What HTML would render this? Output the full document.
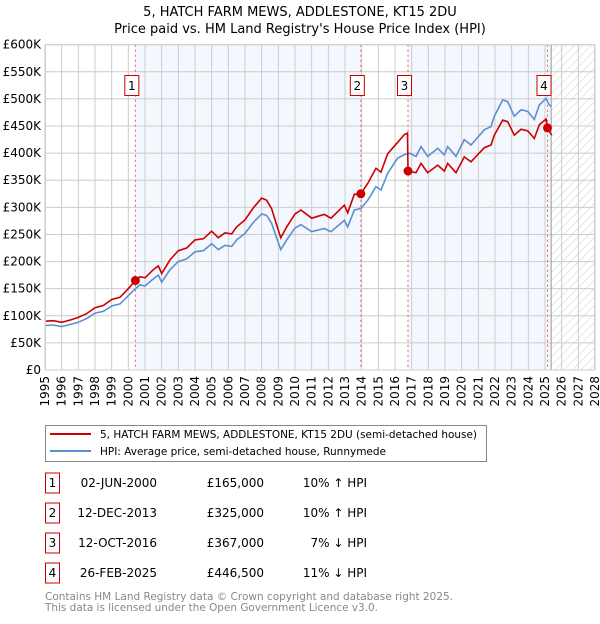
<!DOCTYPE html>
<html><head><meta charset="utf-8"><style>
body{margin:0;background:#fff;font-family:"DejaVu Sans","Liberation Sans",sans-serif;}
svg text{font-family:"DejaVu Sans","Liberation Sans",sans-serif;}
</style></head><body>
<svg id="c" width="600" height="620" viewBox="0 0 600 620" xmlns="http://www.w3.org/2000/svg">
<defs><pattern id="hatch" width="6" height="6" patternUnits="userSpaceOnUse" patternTransform="rotate(45)"><line x1="0" y1="0" x2="0" y2="6" stroke="#ccc" stroke-width="1"/></pattern></defs>
<text x="300" y="16" text-anchor="middle" font-size="13" fill="#000">5, HATCH FARM MEWS, ADDLESTONE, KT15 2DU</text>
<text x="300" y="33" text-anchor="middle" font-size="13" fill="#000">Price paid vs. HM Land Registry's House Price Index (HPI)</text>
<g id="plot"></g>
<g>
<rect x="45.5" y="425.5" width="441" height="36" fill="#fff" stroke="#888"/>
<line x1="50" y1="434" x2="91" y2="434" stroke="#cc0000" stroke-width="2"/>
<text x="100" y="438" font-size="11" textLength="377" lengthAdjust="spacingAndGlyphs">5, HATCH FARM MEWS, ADDLESTONE, KT15 2DU (semi-detached house)</text>
<line x1="50" y1="451" x2="91" y2="451" stroke="#5b8fd0" stroke-width="2"/>
<text x="100" y="455" font-size="11" textLength="286" lengthAdjust="spacingAndGlyphs">HPI: Average price, semi-detached house, Runnymede</text>
</g>
<g id="table"></g>
<text x="45" y="600" font-size="11" fill="#888" textLength="408" lengthAdjust="spacingAndGlyphs">Contains HM Land Registry data © Crown copyright and database right 2025.</text>
<text x="45" y="611" font-size="11" fill="#888" textLength="333" lengthAdjust="spacingAndGlyphs">This data is licensed under the Open Government Licence v3.0.</text>
</svg>
<script>
const yTicks=[0,50000,100000,150000,200000,250000,300000,350000,400000,450000,500000,550000,600000];
const yTickLabels=["£0","£50K","£100K","£150K","£200K","£250K","£300K","£350K","£400K","£450K","£500K","£550K","£600K"];
const years=[1995,1996,1997,1998,1999,2000,2001,2002,2003,2004,2005,2006,2007,2008,2009,2010,2011,2012,2013,2014,2015,2016,2017,2018,2019,2020,2021,2022,2023,2024,2025,2026,2027,2028];
const hpiT=[1995.0,1995.5,1996.0,1996.5,1997.0,1997.5,1998.0,1998.5,1999.0,1999.5,2000.0,2000.42,2000.7,2001.0,2001.5,2001.8,2002.0,2002.5,2003.0,2003.5,2004.0,2004.5,2005.0,2005.4,2005.8,2006.2,2006.5,2007.0,2007.5,2008.0,2008.3,2008.6,2009.0,2009.15,2009.5,2010.0,2010.36,2011.0,2011.76,2012.16,2012.96,2013.16,2013.56,2013.96,2014.36,2014.86,2015.16,2015.56,2016.16,2016.56,2016.86,2017.26,2017.56,2017.96,2018.56,2018.96,2019.16,2019.66,2020.16,2020.56,2021.36,2021.76,2021.96,2022.46,2022.76,2023.16,2023.56,2023.96,2024.36,2024.66,2025.06,2025.26,2025.4];
const hpiV=[82,83,80,84,88,95,105,108,118,122,137,150,157,155,168,175,162,185,200,205,218,220,233,222,230,228,240,252,272,288,285,270,235,222,240,262,268,255,261,255,276,264,295,298,313,338,332,363,391,397,400,394,412,394,409,397,412,394,425,415,443,449,468,498,495,468,480,477,462,489,501,489,486];
const priceT=[1995.0,1995.5,1996.0,1996.5,1997.0,1997.5,1998.0,1998.5,1999.0,1999.5,2000.0,2000.42,2000.7,2001.0,2001.5,2001.8,2002.0,2002.5,2003.0,2003.5,2004.0,2004.5,2005.0,2005.4,2005.8,2006.2,2006.5,2007.0,2007.5,2008.0,2008.3,2008.6,2009.0,2009.15,2009.5,2010.0,2010.36,2011.0,2011.76,2012.16,2012.96,2013.16,2013.56,2013.95,2014.36,2014.86,2015.16,2015.56,2016.16,2016.56,2016.75,2016.78,2017.26,2017.56,2017.96,2018.56,2018.96,2019.16,2019.66,2020.16,2020.56,2021.36,2021.76,2021.96,2022.46,2022.76,2023.16,2023.56,2023.96,2024.36,2024.66,2025.06,2025.15,2025.26,2025.4];
const priceV=[90,91,88,92,97,104,115,119,130,134,150,165,172,170,185,192,178,203,220,225,240,242,256,244,253,251,264,277,299,317,313,297,258,244,264,288,295,280,287,280,304,290,324,325,344,372,365,399,420,434,437,367,364,381,364,378,367,381,364,393,384,410,415,433,461,458,433,444,441,427,452,463,446.5,440,433];
const saleLabels=["1","2","3","4"];
const saleT=[2000.42,2013.95,2016.78,2025.15];
const saleV=[165000,325000,367000,446500];
const saleDates=["02-JUN-2000","12-DEC-2013","12-OCT-2016","26-FEB-2025"];
const salePrices=["£165,000","£325,000","£367,000","£446,500"];
const saleHpi=["10% ↑ HPI","10% ↑ HPI","7% ↓ HPI","11% ↓ HPI"];
const dataEnd=2025.37;

const NS="http://www.w3.org/2000/svg";
const X0=45,X1=595,Y0=370,Y1=44.7,T0=1995,T1=2028,VMAX=600000;
const xs=t=>X0+(t-T0)/(T1-T0)*(X1-X0);
const ys=v=>Y0-v/VMAX*(Y0-Y1);
function mk(tag,attrs,parent){const e=document.createElementNS(NS,tag);for(const k in attrs)e.setAttribute(k,attrs[k]);parent.appendChild(e);return e;}
const plot=document.getElementById('plot');
const SH='#f4f7fd';
let r=mk('rect',{x:xs(saleT[0]),y:Y1,width:xs(saleT[1])-xs(saleT[0]),height:Y0-Y1,fill:SH},plot);


r=mk('rect',{x:xs(saleT[2]),y:Y1,width:xs(saleT[3])-xs(saleT[2]),height:Y0-Y1,fill:SH},plot);


r=mk('rect',{x:xs(saleT[3]),y:Y1,width:xs(dataEnd)-xs(saleT[3]),height:Y0-Y1,fill:SH},plot);


r=mk('rect',{x:xs(dataEnd),y:Y1,width:X1-xs(dataEnd),height:Y0-Y1,fill:'url(#hatch)'},plot);


years.forEach((y,i)=>{const l=mk('line',{x1:xs(y),x2:xs(y),y1:Y1,y2:Y0,stroke:'#ccc','stroke-width':1},plot);


const t=mk('text',{x:0,y:0,'font-size':12,'text-anchor':'end',transform:`translate(${xs(y)+4},${Y0+6}) rotate(-90)`},plot);
t.textContent=y;

});
yTicks.forEach((v,i)=>{const l=mk('line',{x1:X0,x2:X1,y1:ys(v),y2:ys(v),stroke:'#ccc','stroke-width':1},plot);


const t=mk('text',{x:X0-4,y:ys(v)+4,'font-size':12,'text-anchor':'end'},plot);
t.textContent=yTickLabels[i];

});
let b=mk('line',{x1:xs(dataEnd),x2:xs(dataEnd),y1:Y1,y2:Y0,stroke:'#999','stroke-width':1},plot);


saleT.forEach((t,i)=>{const l=mk('line',{x1:xs(t),x2:xs(t),y1:Y1,y2:Y0,stroke:'#e06060','stroke-width':1,'stroke-dasharray':'2,3'},plot);


const g=mk('g',{},plot);


mk('rect',{x:xs(t)-10.5,y:75.5,width:14,height:20,fill:'#fff',stroke:'#cc0000'},g);
const tx=mk('text',{x:xs(t)-3.5,y:90,'font-size':12,'text-anchor':'middle'},g);tx.textContent=saleLabels[i];});
const hp=hpiT.map((t,i)=>`${i?'L':'M'}${xs(t).toFixed(1)},${ys(hpiV[i]*1000).toFixed(1)}`).join('');
let p=mk('path',{d:hp,fill:'none',stroke:'#5b8fd0','stroke-width':1.6},plot);


const pp=priceT.map((t,i)=>`${i?'L':'M'}${xs(t).toFixed(1)},${ys(priceV[i]*1000).toFixed(1)}`).join('');
p=mk('path',{d:pp,fill:'none',stroke:'#cc0000','stroke-width':1.6},plot);


saleT.forEach((t,i)=>{const c=mk('circle',{cx:xs(t),cy:ys(saleV[i]),r:4.5,fill:'#cc0000'},plot);

});
mk('rect',{x:X0+0.5,y:Y1,width:X1-X0-1,height:Y0-Y1,fill:'none',stroke:'#ccc'},plot);
const tb=document.getElementById('table');
saleLabels.forEach((s,i)=>{const cy=483+i*30;
const g=mk('g',{},tb);


mk('rect',{x:45.5,y:cy-10,width:14,height:20,fill:'#fff',stroke:'#cc0000'},g);
let t=mk('text',{x:52.5,y:cy+4,'font-size':12,'text-anchor':'middle'},g);t.textContent=s;
t=mk('text',{x:157,y:cy+4,'font-size':12,'text-anchor':'end'},g);t.textContent=saleDates[i];
t=mk('text',{x:264,y:cy+4,'font-size':12,'text-anchor':'end'},g);t.textContent=salePrices[i];
t=mk('text',{x:367,y:cy+4,'font-size':12,'text-anchor':'end'},g);t.textContent=saleHpi[i];});
</script>
</body></html>
